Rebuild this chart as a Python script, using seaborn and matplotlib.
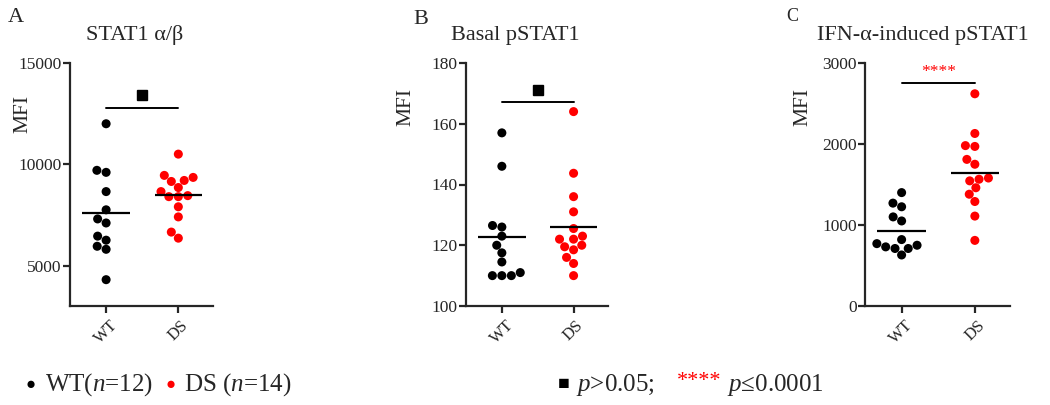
import numpy as np
import pandas as pd
import matplotlib
matplotlib.use("Agg")
import matplotlib.pyplot as plt
import seaborn as sns

# values (MFI per donor)
stat1_wt = [12000, 9600, 9700, 8650, 7750, 7300, 7100, 6450, 6250, 5950, 5800, 4300]
stat1_ds = [10500, 9450, 9350, 9200, 9150, 8850, 8650, 8450, 8400, 8400, 7900, 7400, 6650, 6350]

basal_wt = [157, 146, 126.5, 126, 123, 120, 117.5, 114.5, 111, 110, 110, 110]
basal_ds = [164, 143.7, 136, 131, 125.5, 123, 122, 122, 120, 119.5, 118.5, 116, 114, 110]

ifn_wt = [1400, 1270, 1225, 1100, 1050, 820, 750, 730, 710, 770, 710, 630]
ifn_ds = [2620, 2130, 1980, 1970, 1810, 1750, 1580, 1565, 1545, 1460, 1380, 1290, 1110, 810]

groups = ["WT", "DS"]
panel_letters = ["A", "B", "C"]
titles = ["STAT1 \u03b1/\u03b2", "Basal pSTAT1", "IFN-\u03b1-induced pSTAT1"]
ylims = [(3000, 15000), (100, 180), (0, 3000)]
yticks = [[5000, 10000, 15000], [100, 120, 140, 160, 180], [0, 1000, 2000, 3000]]
sig_bar = [12800, 167, 2750]
sig_mark = [13400, 171.2, 2890]
sig_text = ["ns", "ns", "****"]

panels = [(stat1_wt, stat1_ds), (basal_wt, basal_ds), (ifn_wt, ifn_ds)]

sns.set_style("ticks")
plt.rcParams["font.family"] = ["Liberation Serif", "DejaVu Serif"]
plt.rcParams["mathtext.fontset"] = "custom"
plt.rcParams["mathtext.rm"] = "Liberation Serif"
plt.rcParams["mathtext.it"] = "Liberation Serif:italic"

fig = plt.figure(figsize=(10.5, 4.05), dpi=100)
W, H = 1050, 405

# axes boxes in pixels: left, right
boxes = [(70, 213), (466, 608), (865, 1010)]
label_x = [-0.26, -0.357, -0.36]
label_y = [0.79, 0.82, 0.82]
title_x = [135, 515, 923]
letter_pos = [(8, 8, 16), (413, 10, 16), (786, 8, 13)]

palette = {"WT": "black", "DS": "red"}

for i, (wt, ds) in enumerate(panels):
    l, r = boxes[i]
    ax = fig.add_axes([l / W, 1 - 306 / H, (r - l) / W, 243 / H])
    df = pd.DataFrame({"group": ["WT"] * len(wt) + ["DS"] * len(ds),
                       "MFI": wt + ds})
    sns.swarmplot(data=df, x="group", y="MFI", hue="group", order=groups,
                  palette=palette, size=6.5, legend=False, ax=ax, clip_on=False)
    # mean lines
    for j, g in enumerate(groups):
        m = df.loc[df["group"] == g, "MFI"].mean()
        ax.hlines(m, j - 0.33, j + 0.33, color="black", lw=1.6, zorder=5)
    # significance bar
    ax.plot([0, 1], [sig_bar[i], sig_bar[i]], color="black", lw=1.4)
    if sig_text[i] == "ns":
        ax.plot(0.5, sig_mark[i], marker="s", color="black", ms=6.5, ls="none")
    else:
        ax.text(0.5, sig_mark[i], sig_text[i], color="red", fontsize=12.5,
                ha="center", va="center")
    ax.set_xlim(-0.5, 1.48)
    ax.set_ylim(*ylims[i])
    ax.set_yticks(yticks[i])
    ax.set_xticks([0, 1])
    ax.set_xticklabels(groups, rotation=45, ha="center", fontsize=12)
    ax.tick_params(axis="y", labelsize=12.5, length=5, width=1.6, pad=1)
    ax.tick_params(axis="x", length=5, width=1.6, pad=3)
    ax.set_xlabel("")
    ax.set_ylabel("MFI", fontsize=15.5)
    ax.yaxis.set_label_coords(label_x[i], label_y[i])
    for s in ["left", "bottom"]:
        ax.spines[s].set_linewidth(1.6)
    sns.despine(ax=ax)

    fig.text(title_x[i] / W, 1 - 40 / H, titles[i], fontsize=16,
             ha="center", va="baseline")
    lx, ly, fs = letter_pos[i]
    fig.text(lx / W, 1 - ly / H, panel_letters[i], fontsize=fs,
             ha="left", va="top")

# bottom key
yk = 1 - 385 / H
fig.text(26 / W, yk, "\u25cf", color="black", fontsize=12, va="center")
fig.text(45 / W, yk, r"WT($\mathit{n}$=12)", fontsize=18, va="center")
fig.text(166 / W, yk, "\u25cf", color="red", fontsize=12, va="center")
fig.text(184 / W, yk, r"DS ($\mathit{n}$=14)", fontsize=18, va="center")
fig.text(558 / W, yk, "\u25a0", color="black", fontsize=14, va="center")
fig.text(576 / W, yk, r"$\mathit{p}$>0.05;", fontsize=18, va="center")
fig.text(677 / W, 1 - 381 / H, "****", color="red", fontsize=16, va="center")
fig.text(727 / W, yk, r"$\mathit{p}$" + "\u22640.0001",
         fontsize=18, va="center")

fig.savefig("out.png", dpi=100)
